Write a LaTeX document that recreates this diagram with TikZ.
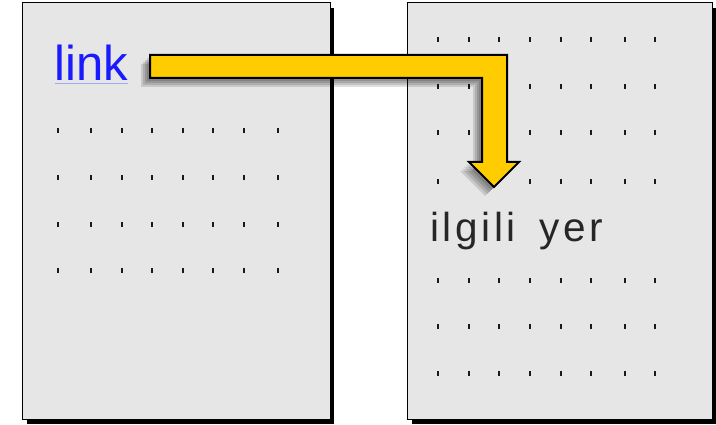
\documentclass[tikz,border=0pt]{standalone}
\usepackage{fontspec}
\setmainfont{Liberation Sans}
\newfontfamily\widefont[LetterSpace=9]{Liberation Sans}
\definecolor{pagegray}{HTML}{E6E6E6}
\definecolor{arrowyellow}{HTML}{FFCC00}
\definecolor{linkblue}{HTML}{1A1AFF}
\definecolor{ulblue}{HTML}{9FA8FF}
\tikzset{
  page/.style={fill=pagegray, draw=black, line width=1pt},
  pageshadow/.style={fill=black},
  dotmark/.style={fill=black!90},
  arrowbody/.style={fill=arrowyellow, draw=black, line width=2pt, line join=miter},
  arrowshadow/.style={fill=black, opacity=0.13},
}
\begin{document}
\begin{tikzpicture}[x=1pt,y=-1pt]
\useasboundingbox (0,0) rectangle (716,425);
\fill[white] (0,0) rectangle (716,425);
% pages
\fill[pageshadow] (27,8) rectangle (334,424);
\draw[page] (22,3) rectangle (330,419);
\fill[pageshadow] (412,8) rectangle (716,424);
\draw[page] (407,3) rectangle (712,419);
% left dots
\foreach \y in {131,178,225,271}
  \foreach \x in {58,91,122,152,183,213,244,278}
    \fill[dotmark] (\x-1.2,\y-2.5) rectangle (\x+1.2,\y+2.5);
% right dots
\foreach \y/\xs in {40/{438,469,499,530,561,591,625,655},
                    87/{438,469,530,561,591,625,655},
                    133/{438,469,530,561,591,625,655},
                    182/{438,530,561,591,625,655},
                    281/{438,469,499,530,561,591,625,655},
                    327/{438,469,499,530,561,591,625,655},
                    373/{438,469,499,530,561,591,625,655}}
  \foreach \x in \xs
    \fill[dotmark] (\x-1.2,\y-2.5) rectangle (\x+1.2,\y+2.5);
% texts
\node[anchor=base west, inner sep=0pt, text=linkblue,
      font=\fontsize{49}{49}\selectfont] (link) at (54.5,81) {link};
\draw[ulblue, line width=1pt] ([yshift=-3pt]link.base west) -- ([yshift=-3pt]link.base east);
\node[anchor=base west, inner sep=0pt, text=black!85,
      font=\widefont\fontsize{40.5}{40}\selectfont] (target) at (430,242) {ilgili\hspace{9pt} yer};
% arrow shadow
\foreach \d in {3,5,7,9}
  \fill[arrowshadow, shift={(-\d,\d)}] (150,55) -- (507,55) -- (507,162) -- (519,162) -- (494,187) -- (469,162) -- (482,162) -- (482,78) -- (150,78) -- cycle;
% arrow
\draw[arrowbody] (150,55) -- (507,55) -- (507,162) -- (519,162) -- (494,187) -- (469,162) -- (482,162) -- (482,78) -- (150,78) -- cycle;
\end{tikzpicture}
\end{document}
